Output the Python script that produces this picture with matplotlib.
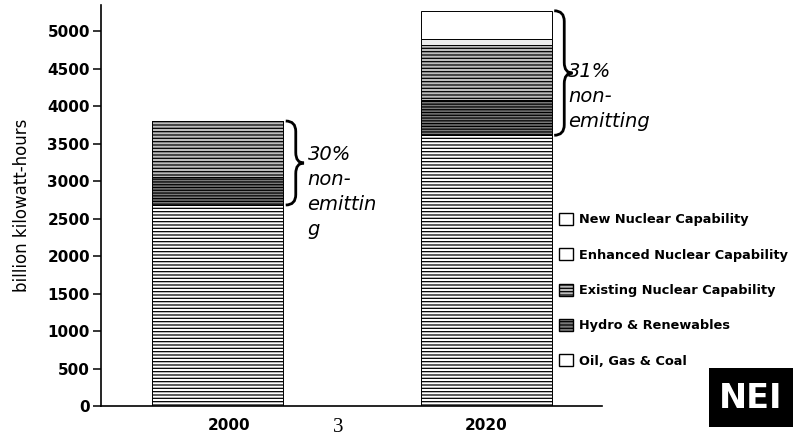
import matplotlib
matplotlib.use("Agg")
import matplotlib.pyplot as plt
from matplotlib.path import Path
from matplotlib.patches import PathPatch, Patch, Rectangle

# ---- data ----
years = ["2000", "2020"]
oil_gas_coal = [2680, 3610]
hydro_renew = [380, 470]
existing_nuclear = [740, 740]
enhanced_nuclear = [0, 80]
new_nuclear = [0, 370]
pct_labels = ["30%\nnon-\nemittin\ng", "31%\nnon-\nemitting"]
yticks = [0, 500, 1000, 1500, 2000, 2500, 3000, 3500, 4000, 4500, 5000]

plt.rcParams['hatch.linewidth'] = 0.9

fig = plt.figure(figsize=(7.96, 4.38), dpi=100)
ax = fig.add_axes([101/796, 1-406/438, 501/796, 401/438])

x = [0, 1]
w = 0.488
segments = [
    ("Oil, Gas & Coal", oil_gas_coal, dict(facecolor="white", hatch="-----")),
    ("Hydro & Renewables", hydro_renew, dict(facecolor="#7a7a7a", hatch="------")),
    ("Existing Nuclear Capability", existing_nuclear, dict(facecolor="#bcbcbc", hatch="-----")),
    ("Enhanced Nuclear Capability", enhanced_nuclear, dict(facecolor="#ececec", hatch="")),
    ("New Nuclear Capability", new_nuclear, dict(facecolor="white", hatch="")),
]
bottom = [0, 0]
for name, vals, st in segments:
    ax.bar(x, vals, w, bottom=bottom, edgecolor="black", linewidth=0.7, **st)
    bottom = [b + v for b, v in zip(bottom, vals)]

totals = bottom

ax.set_xlim(-0.434, 1.432)
ax.set_ylim(0, 5347)
ax.set_yticks(yticks)
ax.set_yticklabels([str(t) for t in yticks], fontsize=11, fontweight="bold")
ax.set_xticks([0.042, 1.0])
ax.set_xticklabels(years, fontsize=11, fontweight="bold")
ax.tick_params(axis="x", length=0, pad=9)
ax.tick_params(axis="y", length=6, width=1.1, direction="out", pad=2)
for s in ["top", "right"]:
    ax.spines[s].set_visible(False)
for s in ["left", "bottom"]:
    ax.spines[s].set_linewidth(1.2)
ax.set_ylabel("billion kilowatt-hours", fontsize=12, labelpad=12)


def brace(ax, x0, y0, y1, wd, r):
    ym = (y0 + y1) / 2
    xm = x0 + wd * 0.55
    verts = [(x0, y1), (xm, y1), (xm, y1 - r),
             (xm, ym + r), (xm, ym), (x0 + wd, ym),
             (xm, ym), (xm, ym - r),
             (xm, y0 + r), (xm, y0), (x0, y0)]
    codes = [Path.MOVETO, Path.CURVE3, Path.CURVE3,
             Path.LINETO, Path.CURVE3, Path.CURVE3,
             Path.CURVE3, Path.CURVE3,
             Path.LINETO, Path.CURVE3, Path.CURVE3]
    ax.add_patch(PathPatch(Path(verts, codes), facecolor="none",
                           edgecolor="black", linewidth=2.0, clip_on=False))


for i in range(2):
    brace(ax, x[i] + w/2 + 0.01, oil_gas_coal[i], totals[i], 0.068, 140)

ax.text(0.335, 3480, pct_labels[0], fontsize=14, style="italic",
        va="top", ha="left", linespacing=1.4)
ax.text(1.307, 4590, pct_labels[1], fontsize=14, style="italic",
        va="top", ha="left", linespacing=1.4)

handles = [
    Patch(facecolor="white", edgecolor="black", label="New Nuclear Capability"),
    Patch(facecolor="white", edgecolor="black", label="Enhanced Nuclear Capability"),
    Patch(facecolor="#bcbcbc", edgecolor="black", hatch="-----", label="Existing Nuclear Capability"),
    Patch(facecolor="#7a7a7a", edgecolor="black", hatch="-----", label="Hydro & Renewables"),
    Patch(facecolor="white", edgecolor="black", label="Oil, Gas & Coal"),
]
fig.legend(handles=handles, loc="upper left", bbox_to_anchor=(559/796, 1-213/438),
           frameon=False, borderpad=0, borderaxespad=0, handlelength=1.05,
           handleheight=1.05, handletextpad=0.5, labelspacing=1.70,
           prop=dict(size=9.3, weight="bold"))

# page number
fig.text(338/796, 1-428/438, "3", fontsize=15, family="Liberation Serif",
         ha="center", va="center")

# NEI logo
fig.patches.append(Rectangle((709/796, 1-427/438), 84/796, 59/438,
                             transform=fig.transFigure, facecolor="black",
                             edgecolor="none"))
fig.text(751/796, 1-399/438, "NEI", fontsize=24, color="white",
         fontweight="bold", ha="center", va="center")

fig.savefig("out.png", dpi=100)
